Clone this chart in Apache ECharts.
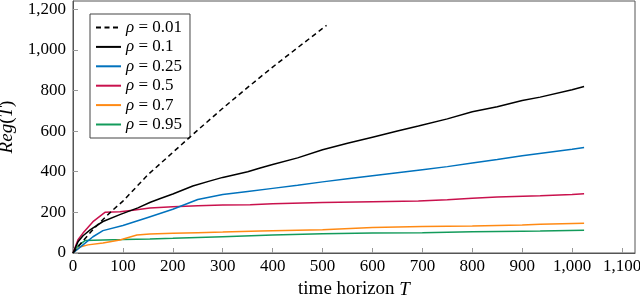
<!DOCTYPE html>
<html>
<head>
<meta charset="utf-8">
<script src="https://cdn.jsdelivr.net/npm/echarts@6/dist/echarts.min.js"></script>
<style>html,body{margin:0;padding:0;background:#fff;}#c{width:640px;height:299px;}</style>
</head>
<body>
<div id="c"></div>
<script>
// rho = 0.01 (dashed)
const x001 = [0, 20, 40, 60, 80, 100, 150, 200, 250, 300, 350, 400, 450, 500, 508];
const y001 = [0, 60, 115, 165, 212, 255, 385, 495, 605, 712, 815, 915, 1010, 1105, 1120];
// rho = 0.1
const x01 = [0, 10, 20, 35, 60, 95, 130, 155, 175, 200, 240, 275, 300, 350, 375, 400, 450, 500, 550, 600, 650, 692, 750, 800, 850, 900, 936, 1000, 1024];
const y01 = [0, 55, 85, 115, 155, 190, 222, 250, 268, 290, 330, 355, 372, 400, 418, 435, 468, 508, 540, 570, 600, 625, 660, 695, 720, 750, 767, 803, 819];
// rho = 0.25
const x025 = [0, 20, 40, 60, 100, 150, 200, 250, 300, 350, 400, 450, 500, 550, 600, 650, 700, 750, 800, 850, 900, 950, 1000, 1024];
const y025 = [0, 40, 80, 110, 135, 175, 215, 263, 288, 303, 318, 333, 350, 365, 380, 395, 410, 425, 443, 460, 478, 494, 510, 519];
// rho = 0.5
const x05 = [0, 10, 20, 40, 64, 94, 120, 154, 200, 250, 300, 355, 400, 500, 600, 692, 750, 800, 850, 936, 1000, 1024];
const y05 = [0, 65, 98, 154, 200, 203, 210, 221, 228, 232, 236, 238, 242, 248, 252, 256, 262, 270, 275, 282, 288, 291];
// rho = 0.7
const x07 = [0, 14, 30, 60, 94, 128, 154, 200, 250, 300, 375, 500, 600, 700, 800, 900, 936, 1024];
const y07 = [0, 30, 40, 49, 64, 89, 94, 97, 100, 103, 108, 115, 125, 130, 133, 138, 141, 146];
// rho = 0.95
const x095 = [0, 10, 24, 60, 100, 154, 200, 300, 400, 500, 600, 700, 800, 900, 936, 1024];
const y095 = [0, 35, 61, 64, 66, 69, 72, 80, 88, 95, 98, 100, 104, 107, 108, 112];

const names = ['ρ = 0.01', 'ρ = 0.1', 'ρ = 0.25', 'ρ = 0.5', 'ρ = 0.7', 'ρ = 0.95'];
const colors = ['#000000', '#000000', '#0072BD', '#C9114D', '#FF8A14', '#139B5B'];
const xs = [x001, x01, x025, x05, x07, x095];
const ys = [y001, y01, y025, y05, y07, y095];

const FONT = 'Liberation Serif';
const fmt = v => (v % 100 === 0 ? Math.round(v).toLocaleString('en-US') : '');

const series = names.map((n, i) => ({
  name: n,
  type: 'line',
  showSymbol: false,
  symbol: 'none',
  data: xs[i].map((x, j) => [x, ys[i][j]]),
  lineStyle: { color: colors[i], width: 1.5, type: i === 0 ? [5, 3.5] : 'solid' },
  itemStyle: { color: colors[i] },
  z: 10 - i,
  animation: false
}));

const chart = echarts.init(document.getElementById('c'));
chart.setOption({
  animation: false,
  backgroundColor: '#fff',
  grid: { left: 73, right: 5, top: 1, bottom: 46, containLabel: false, outerBoundsMode: 'none',
    show: true, borderColor: '#555', borderWidth: 1 },
  legend: {
    orient: 'vertical',
    left: 90, top: 14,
    padding: [5, 8, 5, 5],
    itemGap: 2.4,
    itemWidth: 25, itemHeight: 14,
    backgroundColor: '#fff',
    borderColor: '#444', borderWidth: 1,
    data: names,
    itemStyle: { opacity: 0 },
    formatter: n => n.replace('ρ', '{i|ρ}'),
    textStyle: {
      fontFamily: FONT, fontSize: 17, color: '#000',
      rich: { i: { fontFamily: FONT, fontStyle: 'italic', fontSize: 17, color: '#000' } }
    }
  },
  xAxis: {
    type: 'value', min: 0, max: 1126, interval: 100,
    name: 'time horizon {i|T}',
    nameLocation: 'middle', nameGap: 27,
    nameTextStyle: { fontFamily: FONT, fontSize: 19, color: '#000',
      rich: { i: { fontFamily: FONT, fontStyle: 'italic', fontSize: 19, color: '#000' } } },
    axisLine: { show: true, lineStyle: { color: '#555' } },
    axisTick: { show: true, inside: true, length: 5, lineStyle: { color: '#999' } },
    axisLabel: { fontFamily: FONT, fontSize: 17, color: '#000', margin: 5, formatter: fmt, showMaxLabel: false },
    splitLine: { show: false }
  },
  yAxis: {
    type: 'value', min: 0, max: 1240, interval: 200,
    name: '{i|Reg}({i|T})',
    nameLocation: 'middle', nameGap: 49, nameRotate: 90,
    nameTextStyle: { fontFamily: FONT, fontSize: 19, color: '#000',
      rich: { i: { fontFamily: FONT, fontStyle: 'italic', fontSize: 19, color: '#000' } } },
    axisLine: { show: true, lineStyle: { color: '#555' } },
    axisTick: { show: true, inside: true, length: 5, lineStyle: { color: '#999' } },
    axisLabel: { fontFamily: FONT, fontSize: 17, color: '#000', margin: 7, formatter: fmt, showMaxLabel: false },
    splitLine: { show: false }
  },
  series: series
});
</script>
</body>
</html>
